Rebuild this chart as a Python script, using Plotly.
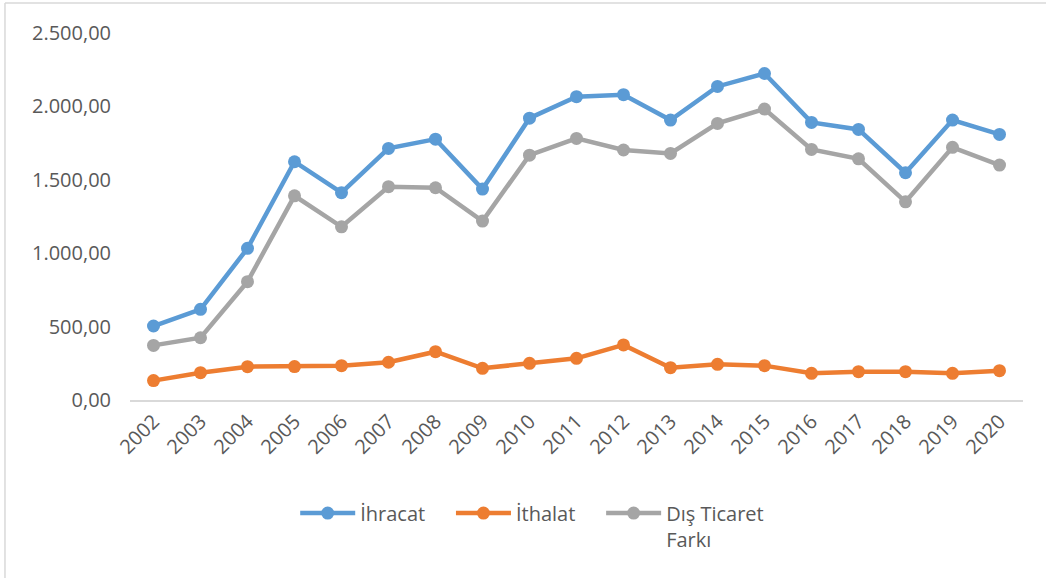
import plotly.graph_objects as go

years = [str(y) for y in range(2002, 2021)]

ihracat = [504, 618, 1033, 1623, 1412, 1714, 1777, 1437, 1920, 2066, 2080,
           1907, 2136, 2224, 1891, 1843, 1548, 1907, 1809]
ithalat = [132, 186, 227, 228, 234, 257, 329, 216, 250, 284, 375,
           220, 243, 234, 182, 193, 193, 182, 200]
dis_ticaret_farki = [372, 424, 806, 1391, 1180, 1453, 1446, 1219, 1668, 1782, 1703,
                     1680, 1884, 1982, 1707, 1643, 1350, 1721, 1600]

pad = '\u00a0' * 4  # extra room between legend entries
series = [
    ('İhracat' + pad, ihracat, '#5B9BD5'),
    ('İthalat' + pad, ithalat, '#ED7D31'),
    ('Dış Ticaret<br>Farkı', dis_ticaret_farki, '#A5A5A5'),
]

fig = go.Figure()
for name, vals, color in series:
    fig.add_trace(go.Scatter(
        x=years, y=vals, name=name, mode='lines+markers',
        line=dict(color=color, width=4.5),
        marker=dict(color=color, size=13)
    ))

font_color = '#595959'

fig.update_layout(
    width=1046, height=578,
    margin=dict(l=130, r=23, t=33, b=178),
    paper_bgcolor='white', plot_bgcolor='white',
    separators=',.',
    font=dict(family='Open Sans, sans-serif', size=20, color=font_color),
    showlegend=True,
    legend=dict(orientation='h', x=0.185, xanchor='left', y=-0.255, yanchor='top',
                font=dict(size=20, color=font_color), valign='top',
                itemwidth=55),
    xaxis=dict(type='category', range=[-0.5, 18.5], tickangle=-45,
               showline=True, linecolor='#D9D9D9', linewidth=1.5,
               showgrid=False, ticks='', tickfont=dict(size=20)),
    yaxis=dict(range=[0, 2500], dtick=500, tickformat=',.2f',
               showgrid=False, zeroline=False, showline=False,
               ticks='', ticklabelstandoff=18, tickfont=dict(size=20)),
    shapes=[
        dict(type='line', xref='paper', yref='paper', x0=-0.14, x1=-0.14,
             y0=-0.5, y1=1.082, line=dict(color='#D9D9D9', width=1.5)),
        dict(type='line', xref='paper', yref='paper', x0=-0.14, x1=1.03,
             y0=1.082, y1=1.082, line=dict(color='#D9D9D9', width=1.5)),
    ]
)

fig.write_html("out.html", config={'displayModeBar': False},
               post_script="document.body.style.margin='0';")
